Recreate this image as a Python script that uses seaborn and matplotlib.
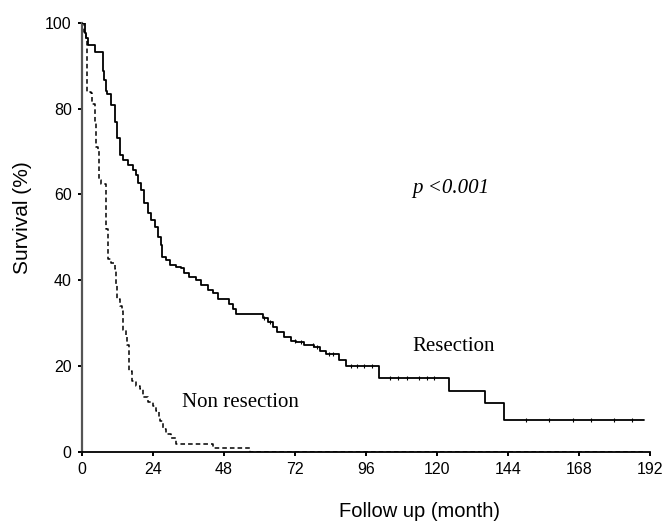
import numpy as np
import pandas as pd
import matplotlib
matplotlib.use("Agg")
import matplotlib.pyplot as plt
import seaborn as sns

# ---- data ----
res_time = [0, 1.0, 1.3, 2.1, 4.4, 7.2, 7.6, 8.1, 8.6, 9.8, 11.1, 11.9, 12.8, 13.8, 15.5,
            17.2, 18.5, 19.0, 20.0, 21.0, 22.3, 23.5, 24.6, 25.7, 26.9, 27.1, 28.6, 29.7,
            32.0, 33.6, 34.7, 36.4, 38.7, 40.4, 42.6, 44.2, 45.9, 49.9, 51.0, 52.2, 61.2,
            62.9, 64.5, 66.1, 68.5, 70.7, 72.4, 75.2, 78.6, 80.5, 82.5, 87.0, 89.3, 100.5,
            124.0, 136.3, 142.5, 189.8]
res_surv = [100, 97.7, 96.4, 94.9, 93.3, 88.9, 86.7, 84.2, 83.4, 80.8, 76.9, 73.1, 69.2, 68.0,
            66.8, 65.7, 64.5, 62.6, 61.0, 57.9, 55.6, 54.0, 52.3, 50.0, 48.1, 45.4, 44.6,
            43.5, 43.1, 42.8, 41.6, 40.7, 40.0, 38.8, 37.6, 36.9, 35.7, 34.5, 33.4, 32.2,
            31.1, 30.2, 29.0, 27.9, 26.7, 25.9, 25.5, 24.8, 24.4, 23.5, 22.8, 21.3, 20.1,
            17.3, 14.25, 11.4, 7.4, 7.4]

non_time = [0, 0.7, 1.6, 1.8, 3.0, 3.6, 4.4, 4.9, 5.5, 5.8, 6.6, 8.1, 8.3, 8.9, 10.0, 11.1,
            11.5, 11.9, 12.8, 13.7, 14.0, 14.8, 15.2, 16.0, 17.1, 18.5, 19.6, 20.7, 22.4,
            24.0, 25.2, 26.1, 26.5, 27.4, 28.6, 30.3, 32.0, 44.3, 57.0, 189.8]
non_surv = [100, 98.0, 96.5, 84.0, 83.6, 81.2, 76.9, 71.1, 70.3, 63.3, 62.5, 59.0, 52.0, 45.0,
            43.9, 42.7, 39.2, 35.7, 34.1, 32.9, 28.3, 27.1, 24.8, 18.9, 16.6, 15.4, 14.6,
            12.7, 11.5, 10.7, 9.6, 8.0, 7.2, 5.3, 4.1, 3.3, 1.8, 0.9, 0.0, 0.0]

res_censor = [61.5, 63.5, 72.0, 74.0, 78.0, 79.5, 83.5, 85.0, 91.0, 93.0, 95.5, 98.0, 104.0,
              107.0, 110.0, 114.0, 116.5, 119.0, 150.0, 158.0, 166.0, 172.0, 180.0, 186.0]

x_ticks = [0, 24, 48, 72, 96, 120, 144, 168, 192]
y_ticks = [0, 20, 40, 60, 80, 100]

df_res = pd.DataFrame({"time": res_time, "surv": res_surv})
df_non = pd.DataFrame({"time": non_time, "surv": non_surv})

sns.set_theme(style="ticks")
plt.rcParams["font.family"] = ["Liberation Sans", "DejaVu Sans"]

fig = plt.figure(figsize=(6.66, 5.27), dpi=100)
ax = fig.add_axes([0.1227, 0.1429, 0.8533, 0.8135])

sns.lineplot(data=df_res, x="time", y="surv", ax=ax, color="black", lw=1.3,
             drawstyle="steps-post", estimator=None, sort=False)
sns.lineplot(data=df_non, x="time", y="surv", ax=ax, color="black", lw=1.1,
             drawstyle="steps-post", estimator=None, sort=False, dashes=False,
             linestyle=(0, (3, 2)))

# censor marks on the resection curve
rt = np.array(res_time)
rs = np.array(res_surv)
cvals = rs[np.searchsorted(rt, res_censor, side="right") - 1]
ax.plot(res_censor, cvals, linestyle="none", marker="|", ms=3, mew=0.8, color="black")

ax.set_xlim(0, 192)
ax.set_ylim(0, 100)
ax.set_xticks(x_ticks)
ax.set_yticks(y_ticks)
ax.set_xticklabels([str(v) for v in x_ticks])
ax.set_yticklabels([str(v) for v in y_ticks])
ax.tick_params(axis="both", direction="out", length=3.2, width=1.4, pad=4,
               labelsize=11.5, colors="black")

for s in ["top", "right"]:
    ax.spines[s].set_visible(False)
ax.spines["left"].set_color("#555555")
ax.spines["left"].set_linewidth(1.6)
ax.spines["bottom"].set_color("black")
ax.spines["bottom"].set_linewidth(1.3)
ax.spines["left"].set_zorder(1)

ax.set_xlabel("Follow up (month)", fontsize=14.5, color="black")
ax.set_ylabel("Survival (%)", fontsize=15, color="black")
ax.xaxis.set_label_coords(0.5935, -0.118)
ax.yaxis.set_label_coords(-0.0875, 0.545)

serif = ["Liberation Serif", "DejaVu Serif"]
ax.text(111.5, 61.5, "p <0.001", family=serif, style="italic", fontsize=15,
        ha="left", va="center", color="black")
ax.text(111.8, 24.6, "Resection", family=serif, fontsize=15, ha="left", va="center",
        color="black")
ax.text(33.8, 11.4, "Non resection", family=serif, fontsize=15, ha="left", va="center",
        color="black")

fig.savefig("out.png", dpi=100, facecolor="white")
